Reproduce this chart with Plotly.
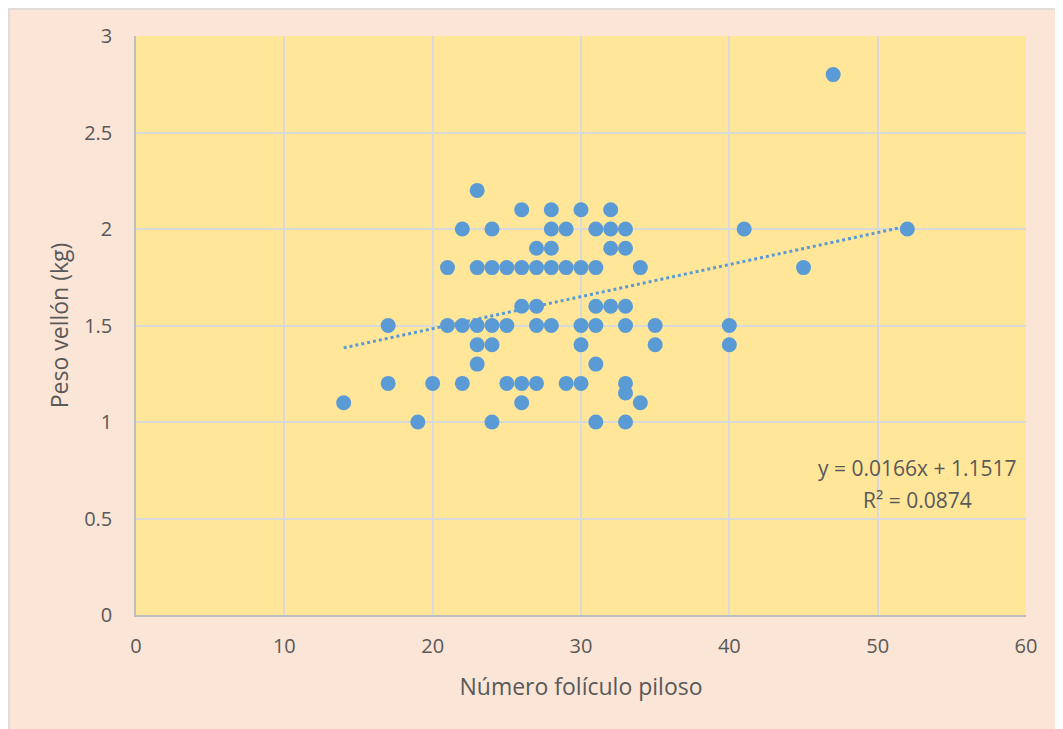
import plotly.graph_objects as go
import numpy as np

# Data
foliculos = [14, 17, 17, 19, 20, 21, 21, 22, 22, 22,
             23, 23, 23, 23, 23, 24, 24, 24, 24, 24,
             25, 25, 25, 26, 26, 26, 26, 26, 27, 27,
             27, 27, 27, 28, 28, 28, 28, 28, 29, 29,
             29, 30, 30, 30, 30, 30, 31, 31, 31, 31,
             31, 31, 32, 32, 32, 32, 33, 33, 33, 33,
             33, 33, 33, 34, 34, 35, 35, 40, 40, 41,
             45, 47, 52]
peso = [1.1, 1.5, 1.2, 1.0, 1.2, 1.8, 1.5, 2.0, 1.5, 1.2,
        2.2, 1.8, 1.5, 1.4, 1.3, 2.0, 1.8, 1.5, 1.4, 1.0,
        1.8, 1.5, 1.2, 2.1, 1.8, 1.6, 1.2, 1.1, 1.9, 1.8,
        1.6, 1.5, 1.2, 2.1, 2.0, 1.9, 1.8, 1.5, 2.0, 1.8,
        1.2, 2.1, 1.8, 1.5, 1.4, 1.2, 2.0, 1.8, 1.6, 1.5,
        1.3, 1.0, 2.1, 2.0, 1.9, 1.6, 2.0, 1.9, 1.6, 1.5,
        1.2, 1.15, 1.0, 1.8, 1.1, 1.5, 1.4, 1.5, 1.4, 2.0,
        1.8, 2.8, 2.0]

slope = 0.0166
intercept = 1.1517
eq_text = "y = 0.0166x + 1.1517"
r2_text = "R² = 0.0874"

x_ticks = [0, 10, 20, 30, 40, 50, 60]
y_ticks = [0, 0.5, 1, 1.5, 2, 2.5, 3]
y_tick_labels = ["0", "0.5", "1", "1.5", "2", "2.5", "3"]

blue = "#5B9BD5"
text_col = "#595959"
font_family = "Open Sans"

trend_x = np.linspace(min(foliculos), max(foliculos), 60)
trend_y = slope * trend_x + intercept

fig = go.Figure()
fig.add_trace(go.Scatter(
    x=trend_x, y=trend_y, mode="lines",
    line=dict(color=blue, width=3, dash="dot"),
    hoverinfo="skip", showlegend=False))
fig.add_trace(go.Scatter(
    x=foliculos, y=peso, mode="markers",
    marker=dict(color=blue, size=15, line=dict(width=0)),
    showlegend=False))

fig.add_annotation(x=52.66, y=0.761, xref="x", yref="y", text=eq_text,
                   showarrow=False, xanchor="center", yanchor="middle",
                   font=dict(family=font_family, size=21, color=text_col))
fig.add_annotation(x=52.66, y=0.595, xref="x", yref="y", text=r2_text,
                   showarrow=False, xanchor="center", yanchor="middle",
                   font=dict(family=font_family, size=21, color=text_col))

L, T, PW, PH = 128, 28, 890, 579
# outer chart border
fig.add_shape(type="rect", xref="paper", yref="paper",
              x0=-(L - 1) / PW, x1=1.2, y0=-0.3, y1=1 + (T - 1) / PH,
              line=dict(color="#D9D9D9", width=1.5), fillcolor="rgba(0,0,0,0)",
              layer="below")

fig.update_layout(
    width=1063, height=729,
    margin=dict(l=L, r=1063 - L - PW, t=T, b=729 - T - PH),
    paper_bgcolor="#FBE5D6",
    plot_bgcolor="#FFE699",
    font=dict(family=font_family, color=text_col, size=20),
    xaxis=dict(
        range=[0, 60], tickvals=x_ticks, ticktext=[str(v) for v in x_ticks],
        showgrid=True, gridcolor="#D9D9D9", gridwidth=1.5,
        showline=True, linecolor="#BFBFBF", linewidth=1.5,
        zeroline=False, ticks="", ticklabelstandoff=12,
        tickfont=dict(size=20, color=text_col),
        title=dict(text="Número folículo piloso", standoff=21,
                   font=dict(size=23, color=text_col)),
    ),
    yaxis=dict(
        range=[0, 3], tickvals=y_ticks, ticktext=y_tick_labels,
        showgrid=True, gridcolor="#D9D9D9", gridwidth=1.5,
        showline=True, linecolor="#BFBFBF", linewidth=1.5,
        zeroline=False, ticks="", ticklabelstandoff=18,
        tickfont=dict(size=20, color=text_col),
        title=dict(text="Peso vellón (kg)", standoff=9,
                   font=dict(size=23, color=text_col)),
    ),
)

fig.write_html("out.html")
